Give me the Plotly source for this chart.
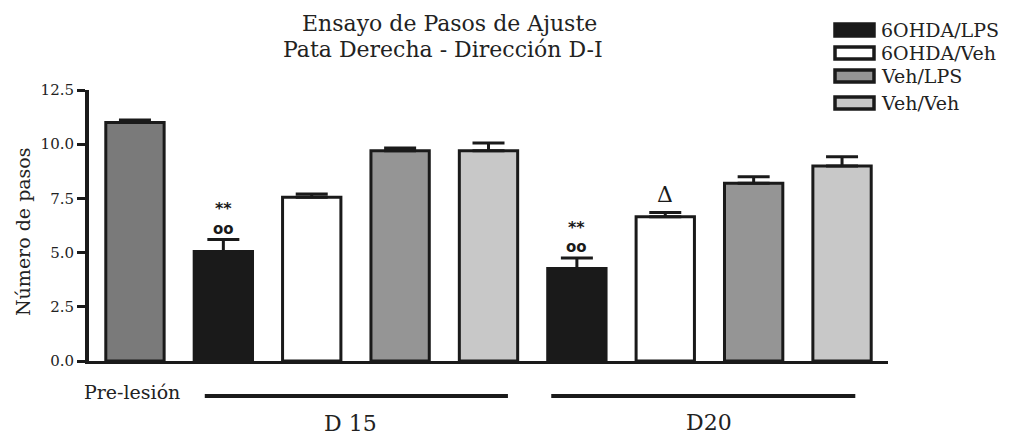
import plotly.graph_objects as go

# ---------------- data ----------------
series_names = ["6OHDA/LPS", "6OHDA/Veh", "Veh/LPS", "Veh/Veh"]
series_colors = ["#1a1a1a", "#ffffff", "#959595", "#c8c8c8"]
prelesion_value = [11.0]
prelesion_error = [0.12]
# values at D15 and D20 for each series
values_6ohda_lps = [5.05, 4.27]
errors_6ohda_lps = [0.55, 0.48]
values_6ohda_veh = [7.55, 6.65]
errors_6ohda_veh = [0.15, 0.20]
values_veh_lps = [9.7, 8.2]
errors_veh_lps = [0.13, 0.30]
values_veh_veh = [9.7, 9.0]
errors_veh_veh = [0.35, 0.42]
group_labels = ["Pre-lesión", "D 15", "D20"]
ytick_vals = [0, 2.5, 5.0, 7.5, 10.0, 12.5]
ytick_text = ["0.0", "2.5", "5.0", "7.5", "10.0", "12.5"]

series_values = [values_6ohda_lps, values_6ohda_veh, values_veh_lps, values_veh_veh]
series_errors = [errors_6ohda_lps, errors_6ohda_veh, errors_veh_lps, errors_veh_veh]

# --------------- layout geometry ---------------
W, H = 1011, 435
ML, MR, MT, MB = 89, 123, 90, 74
PW, PH = W - ML - MR, H - MT - MB
SERIF = "DejaVu Serif"
INK = "#1a1a1a"
TXT = "#222222"
BARW = 0.66


def px_x(px):
    return (px - ML) / PW


def px_y(py):
    return (H - MB - py) / PH


fig = go.Figure()

err_style = dict(type="data", symmetric=False, thickness=3, width=16, color=INK)

fig.add_trace(go.Bar(
    x=[0], y=prelesion_value, width=BARW, showlegend=False,
    marker=dict(color="#7a7a7a", line=dict(color=INK, width=3)),
    error_y=dict(array=prelesion_error, arrayminus=[0], **err_style),
))

for i, (name, col, vals, errs) in enumerate(zip(series_names, series_colors, series_values, series_errors)):
    xs = [1 + i, 5 + i]
    fig.add_trace(go.Bar(
        x=xs, y=vals, width=BARW, name=name, showlegend=False,
        marker=dict(color=col, line=dict(color=INK, width=3)),
        error_y=dict(array=errs, arrayminus=[0] * len(errs), **err_style),
    ))

annotations = []
shapes = []

# significance marks
for gi in range(2):
    xb = 1 + 4 * gi
    top = values_6ohda_lps[gi] + errors_6ohda_lps[gi]
    annotations.append(dict(x=xb, y=top, xref="x", yref="y", text="<b>oo</b>", showarrow=False,
                            yanchor="middle", yshift=11,
                            font=dict(family="DejaVu Sans", size=15, color=INK)))
    annotations.append(dict(x=xb, y=top, xref="x", yref="y", text="<b>**</b>", showarrow=False,
                            yanchor="middle", yshift=31,
                            font=dict(family="DejaVu Sans", size=16, color=INK)))
top7 = values_6ohda_veh[1] + errors_6ohda_veh[1]
annotations.append(dict(x=6, y=top7, xref="x", yref="y", text="Δ", showarrow=False,
                        yanchor="middle", yshift=18, font=dict(family=SERIF, size=22, color=INK)))

# title (two lines)
annotations.append(dict(x=px_x(449), y=px_y(24), xref="paper", yref="paper", text="Ensayo de Pasos de Ajuste",
                        showarrow=False, xanchor="center", yanchor="middle",
                        font=dict(family=SERIF, size=22, color=TXT)))
annotations.append(dict(x=px_x(443), y=px_y(49), xref="paper", yref="paper", text="Pata Derecha - Dirección D-I",
                        showarrow=False, xanchor="center", yanchor="middle",
                        font=dict(family=SERIF, size=22, color=TXT)))

# y axis title
annotations.append(dict(x=px_x(23), y=px_y(232), xref="paper", yref="paper", text="Número de pasos",
                        showarrow=False, textangle=-90, xanchor="center", yanchor="middle",
                        font=dict(family=SERIF, size=19, color=TXT)))

# group labels and lines
annotations.append(dict(x=px_x(132), y=px_y(392), xref="paper", yref="paper", text=group_labels[0],
                        showarrow=False, xanchor="center", yanchor="middle",
                        font=dict(family=SERIF, size=19, color=TXT)))
annotations.append(dict(x=2.44, y=px_y(423), xref="x", yref="paper", text=group_labels[1],
                        showarrow=False, xanchor="center", yanchor="middle",
                        font=dict(family=SERIF, size=22, color=TXT)))
annotations.append(dict(x=6.5, y=px_y(422), xref="x", yref="paper", text=group_labels[2],
                        showarrow=False, xanchor="center", yanchor="middle",
                        font=dict(family=SERIF, size=22, color=TXT)))
for x0, x1 in [(0.79, 4.22), (4.71, 8.15)]:
    shapes.append(dict(type="line", xref="x", yref="paper", x0=x0, x1=x1, y0=px_y(396), y1=px_y(396),
                       line=dict(color=INK, width=4)))

# legend (manual)
legend_rows = [30, 53, 76, 103]
for name, col, cy in zip(series_names, series_colors, legend_rows):
    shapes.append(dict(type="rect", xref="paper", yref="paper", x0=px_x(835), x1=px_x(874),
                       y0=px_y(cy - 6), y1=px_y(cy + 6), fillcolor=col,
                       line=dict(color=INK, width=3.5)))
    annotations.append(dict(x=px_x(879), y=px_y(cy), xref="paper", yref="paper", text=name,
                            showarrow=False, xanchor="left", yanchor="middle",
                            font=dict(family=SERIF, size=19, color=TXT)))

fig.update_layout(
    width=W, height=H,
    margin=dict(l=ML, r=MR, t=MT, b=MB),
    paper_bgcolor="white", plot_bgcolor="white",
    barmode="overlay", showlegend=False,
    annotations=annotations, shapes=shapes,
    xaxis=dict(range=[-0.52, 8.52], showgrid=False, zeroline=False, showticklabels=False,
               ticks="", showline=True, linecolor=INK, linewidth=3, fixedrange=True),
    yaxis=dict(range=[0, 12.5], showgrid=False, zeroline=False, showline=True, linecolor=INK,
               linewidth=4, ticks="outside", ticklen=8, tickwidth=3, tickcolor=INK,
               tickvals=ytick_vals, ticktext=ytick_text,
               tickfont=dict(family=SERIF, size=15, color=TXT), fixedrange=True),
)

fig.write_html("out.html", config={"displayModeBar": False},
               post_script="document.body.style.margin='0px';document.body.style.overflow='hidden';")
